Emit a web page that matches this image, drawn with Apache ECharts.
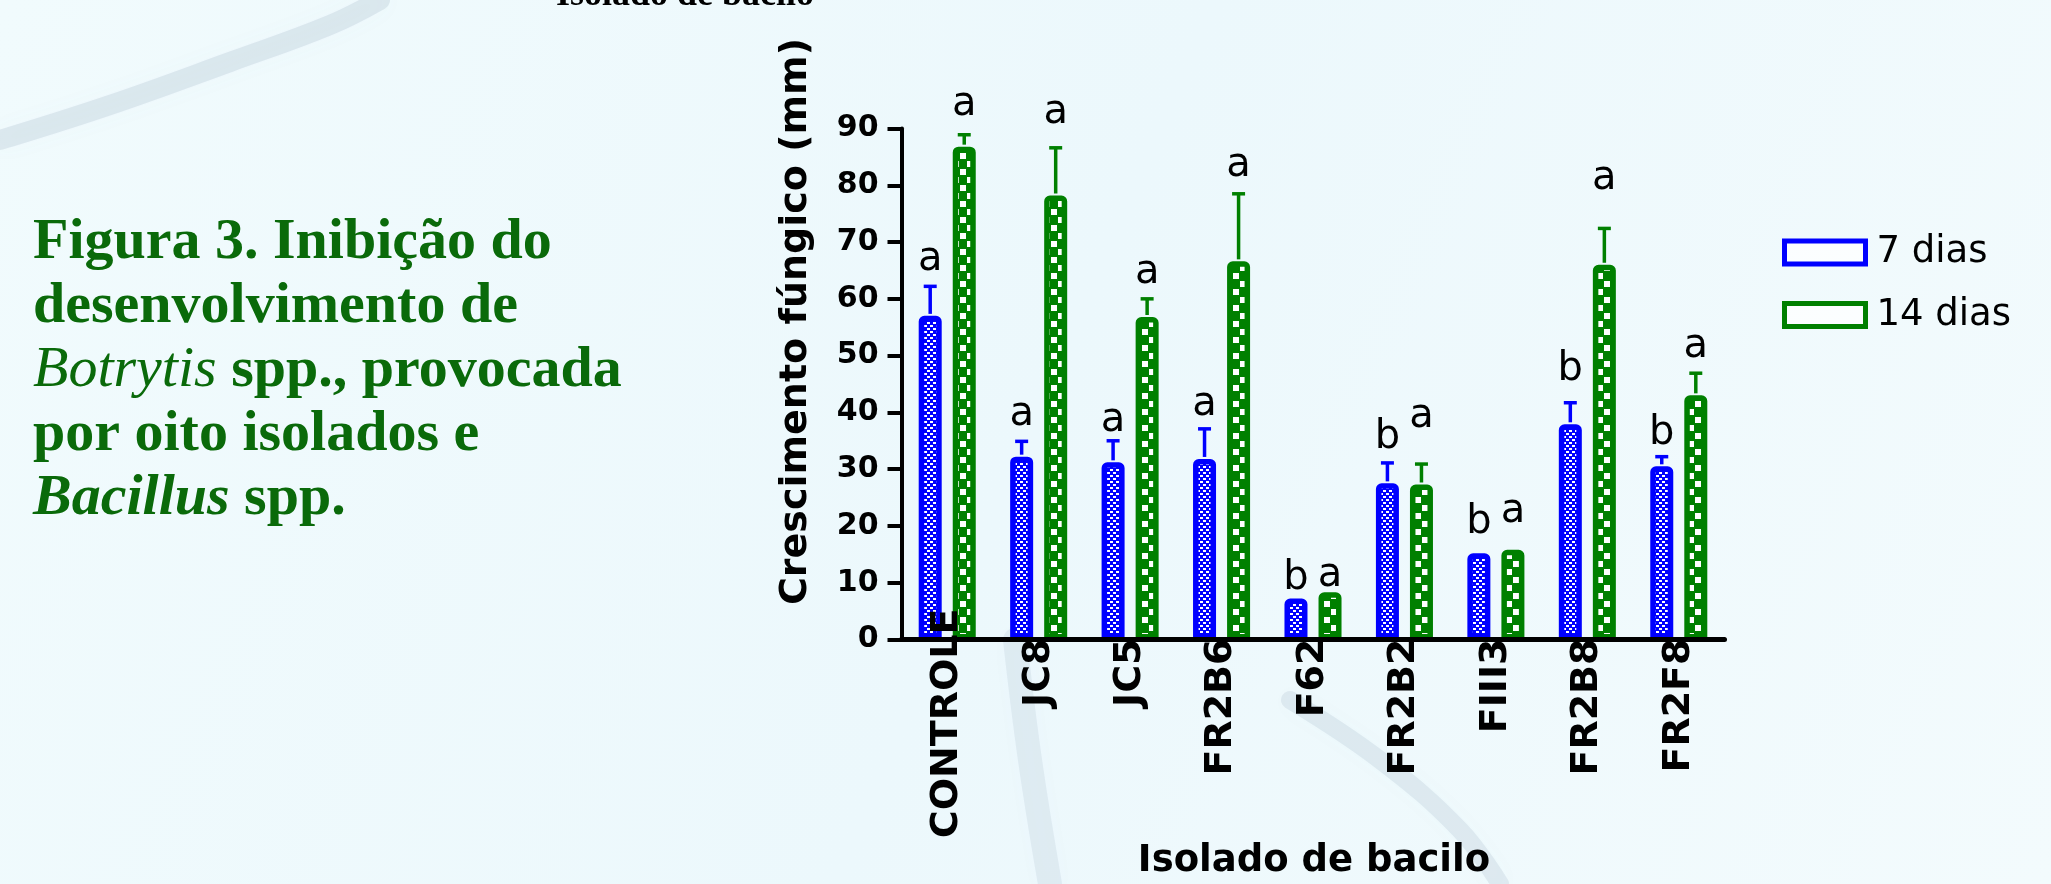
<!DOCTYPE html>
<html>
<head>
<meta charset="utf-8">
<script src="https://cdn.jsdelivr.net/npm/echarts@6/dist/echarts.min.js"></script>
<style>
  html, body { margin: 0; padding: 0; background: #eef9fc; }
  #chart { width: 2051px; height: 884px; }
</style>
</head>
<body>
<div id="chart"></div>
<script>
// ---------- data ----------
const categories = ['CONTROLE', 'JC8', 'JC5', 'FR2B6', 'F62', 'FR2B2', 'FIII3', 'FR2B8', 'FR2F8'];
const seriesNames = ['7 dias', '14 dias'];
const mean7  = [57.0, 32.2, 31.2, 31.8, 7.2, 27.5, 15.2, 37.9, 30.5];
const mean14 = [86.8, 78.2, 56.8, 66.6, 8.3, 27.3, 15.8, 66.0, 43.0];
const sd7    = [5.2, 2.7, 3.8, 5.3, 0, 3.6, 0, 3.8, 1.7];
const sd14   = [2.1, 8.4, 3.2, 11.9, 0, 3.6, 0, 6.4, 3.9];
const letters7  = ['a', 'a', 'a', 'a', 'b', 'b', 'b', 'b', 'b'];
const letters14 = ['a', 'a', 'a', 'a', 'a', 'a', 'a', 'a', 'a'];
// baseline position of each significance letter, in axis units
const letterPos7  = [64.5, 37.2, 36.2, 39.0, 8.2, 33.1, 18.2, 45.1, 33.8];
const letterPos14 = [91.8, 90.4, 62.1, 81.1, 8.8, 36.8, 20.0, 78.8, 49.2];
const yMin = 0, yMax = 90, yInterval = 10;

// ---------- style ----------
const BLUE = '#0000ff';
const GREEN = '#008000';
const BAR_W = 23;
const BAR_GAP = 0.48;
const OFFSET = (BAR_W * (1 + BAR_GAP)) / 2;
const SANS = 'DejaVu Sans';
const CAP_GREEN = '#0a6a0a';

function makePattern(bg, tileW, tileH, squares) {
  const c = document.createElement('canvas');
  c.width = tileW; c.height = tileH;
  const ctx = c.getContext('2d');
  ctx.fillStyle = bg;
  ctx.fillRect(0, 0, tileW, tileH);
  ctx.fillStyle = '#ffffff';
  squares.forEach(s => ctx.fillRect(s[0], s[1], s[2], s[3]));
  return c;
}
const bluePattern = makePattern(BLUE, 6, 6, [[0, 1, 3, 2], [3, 4, 3, 2]]);
const greenPattern = makePattern(GREEN, 14, 16, [[1, 1, 6, 6], [8, 9, 6, 6]]);

function errRender(means, sds, letters, lpos, color, side) {
  return function (params, api) {
    const i = params.dataIndex;
    const base = api.coord([i, means[i]]);
    const x = base[0] + side * OFFSET;
    const children = [];
    if (sds[i] > 0) {
      const top = api.coord([i, means[i] + sds[i]]);
      children.push({ type: 'line', shape: { x1: x, y1: base[1] - 2, x2: x, y2: top[1] },
        style: { stroke: color, lineWidth: 3.5 } });
      children.push({ type: 'line', shape: { x1: x - 6.5, y1: top[1], x2: x + 6.5, y2: top[1] },
        style: { stroke: color, lineWidth: 3.5 } });
    }
    const lp = api.coord([i, lpos[i]]);
    const fs = 40;
    children.push({ type: 'text', x: x, y: lp[1] - 0.346 * fs,
      style: { text: letters[i], fontFamily: SANS, fontSize: fs, fill: '#000',
        align: 'center', verticalAlign: 'middle' } });
    return { type: 'group', children: children };
  };
}

const chart = echarts.init(document.getElementById('chart'), null, { renderer: 'canvas' });

const xData = categories.map((c, i) => i === 0 ? { value: c }
  : { value: c, textStyle: { padding: [0, 30, 0, 0] } });

function blurStroke(points, width, alpha) {
  return { type: 'polyline', z: -10, silent: true, shape: { points: points, smooth: 0.4 },
    style: { stroke: 'rgba(120,145,170,' + alpha + ')', lineWidth: width, fill: null, lineCap: 'round',
      shadowBlur: 25, shadowColor: 'rgba(120,145,170,' + alpha + ')' } };
}

const option = {
  backgroundColor: {
    type: 'linear', x: 0, y: 0, x2: 1, y2: 1,
    colorStops: [{ offset: 0, color: '#f1fbfd' }, { offset: 0.5, color: '#ecf8fc' }, { offset: 1, color: '#f3fbfd' }]
  },
  animation: false,
  grid: { left: 901.5, right: 326.5, top: 128.5, bottom: 244.5, outerBoundsMode: 'none', containLabel: false },
  legend: {
    orient: 'vertical', left: 1782, top: 234, padding: 0,
    itemWidth: 81, itemHeight: 23, itemGap: 25.5,
    icon: 'rect',
    textStyle: { fontFamily: SANS, fontSize: 37, color: '#000', lineHeight: 23, padding: [0, 0, 0, 6] },
    data: [
      { name: seriesNames[0], itemStyle: { color: 'rgba(255,255,255,0.7)', borderColor: BLUE, borderWidth: 5 } },
      { name: seriesNames[1], itemStyle: { color: 'rgba(255,255,255,0.7)', borderColor: GREEN, borderWidth: 5 } }
    ]
  },
  xAxis: {
    type: 'category', data: xData, z: 10,
    axisLine: { lineStyle: { color: '#000', width: 5 } },
    axisTick: { show: false },
    axisLabel: { rotate: 90, margin: -31, interval: 0, fontFamily: SANS, fontWeight: 'bold', fontSize: 38, color: '#000' },
    splitLine: { show: false }
  },
  yAxis: {
    type: 'value', min: yMin, max: yMax, interval: yInterval,
    axisLine: { show: true, lineStyle: { color: '#000', width: 4 } },
    axisTick: { show: true, inside: false, length: 14, lineStyle: { color: '#000', width: 4 } },
    axisLabel: { margin: 23, fontFamily: SANS, fontWeight: 'bold', fontSize: 30, color: '#000' },
    splitLine: { show: false }
  },
  graphic: [
    // faint background texture strokes
    blurStroke([[0, 140], [110, 105], [230, 62], [330, 25], [380, 0]], 20, 0.16),
    blurStroke([[1015, 640], [1030, 760], [1050, 884]], 24, 0.12),
    blurStroke([[1290, 700], [1380, 760], [1460, 830], [1500, 884]], 18, 0.14),
    // figure caption
    { type: 'text', left: 33, top: 214, z: 5,
      style: {
        text: '{b|Figura 3. Inibição do}\n{b|desenvolvimento de}\n{i|Botrytis}{b| spp., provocada}\n{b|por oito isolados e}\n{bi|Bacillus}{b| spp.}',
        rich: {
          b: { fontFamily: 'Liberation Serif', fontWeight: 'bold', fontSize: 58, lineHeight: 64, fill: CAP_GREEN, color: CAP_GREEN },
          i: { fontFamily: 'Liberation Serif', fontStyle: 'italic', fontWeight: 'normal', fontSize: 58, lineHeight: 64, fill: CAP_GREEN, color: CAP_GREEN },
          bi: { fontFamily: 'Liberation Serif', fontStyle: 'italic', fontWeight: 'bold', fontSize: 58, lineHeight: 64, fill: CAP_GREEN, color: CAP_GREEN }
        }
      } },
    // cut-off text at top
    { type: 'text', x: 556, y: 8 - 0.35 * 36, z: 5,
      style: { text: 'Isolado de bacilo', fontFamily: 'Liberation Serif', fontWeight: 'bold', fontSize: 36, fill: '#000', verticalAlign: 'middle', align: 'left' } },
    // y axis title
    { type: 'text', x: 796, y: 321.5, rotation: Math.PI / 2, z: 5,
      style: { text: 'Crescimento fúngico (mm)', fontFamily: SANS, fontWeight: 'bold', fontSize: 38, fill: '#000', align: 'center', verticalAlign: 'middle' } },
    // x axis title
    { type: 'text', x: 1314, y: 874 - 0.346 * 37, z: 5,
      style: { text: 'Isolado de bacilo', fontFamily: SANS, fontWeight: 'bold', fontSize: 37, fill: '#000', align: 'center', verticalAlign: 'middle' } }
  ],
  series: [
    { name: seriesNames[0], type: 'bar', data: mean7, barWidth: BAR_W, barGap: (BAR_GAP * 100) + '%',
      itemStyle: { color: { image: bluePattern, repeat: 'repeat' }, borderColor: BLUE, borderWidth: 5.5, borderRadius: [3, 3, 0, 0] } },
    { name: seriesNames[1], type: 'bar', data: mean14, barWidth: BAR_W,
      itemStyle: { color: { image: greenPattern, repeat: 'repeat' }, borderColor: GREEN, borderWidth: 5.5, borderRadius: [3, 3, 0, 0] } },
    { type: 'custom', name: 'err7', coordinateSystem: 'cartesian2d', clip: false, z: 4,
      data: mean7.map((v, i) => [i, v]), renderItem: errRender(mean7, sd7, letters7, letterPos7, BLUE, -1) },
    { type: 'custom', name: 'err14', coordinateSystem: 'cartesian2d', clip: false, z: 4,
      data: mean14.map((v, i) => [i, v]), renderItem: errRender(mean14, sd14, letters14, letterPos14, GREEN, 1) }
  ]
};
chart.setOption(option);
</script>
</body>
</html>
